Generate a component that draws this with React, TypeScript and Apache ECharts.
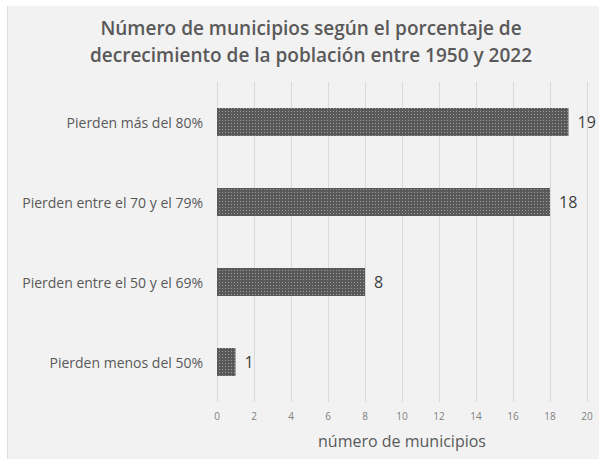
import React, { useEffect, useRef } from "react";
import * as echarts from "echarts";

const categories = [
  "Pierden más del 80%",
  "Pierden entre el 70 y el 79%",
  "Pierden entre el 50 y el 69%",
  "Pierden menos del 50%",
];
const values = [19, 18, 8, 1];
const xTicksMax = 20;
const titleLines = [
  "Número de municipios según el porcentaje de",
  "decrecimiento de la población entre 1950 y 2022",
];
const xAxisName = "número de municipios";

export default function App() {
  const ref = useRef<HTMLDivElement>(null);
  useEffect(() => {
    const chart = echarts.init(ref.current!, null, { renderer: "svg" });
    const font = "'Open Sans', 'Noto Sans', sans-serif";
    chart.setOption({
      animation: false,
      backgroundColor: "#ffffff",
      textStyle: { fontFamily: font },
      graphic: [
        {
          type: "rect",
          z: -10,
          silent: true,
          shape: { x: 7, y: 6, width: 700, height: 600 },
          style: { fill: "#f2f2f2" },
        },
        {
          type: "line",
          z: -9,
          silent: true,
          shape: { x1: 7.5, y1: 6, x2: 7.5, y2: 600 },
          style: { stroke: "#dedede", lineWidth: 1 },
        },
      ],
      title: {
        text: titleLines.join("\n"),
        left: 306,
        textAlign: "center",
        top: 9,
        textStyle: {
          fontFamily: font,
          fontSize: 19,
          fontWeight: 600,
          color: "#595959",
          lineHeight: 27,
        },
      },
      grid: { left: 217, right: 12, top: 82, bottom: 57, containLabel: false },
      xAxis: {
        type: "value",
        min: 0,
        max: xTicksMax,
        interval: 2,
        axisLine: { show: false },
        axisTick: { show: false },
        splitLine: { lineStyle: { color: "#d9d9d9", width: 1 } },
        axisLabel: { fontSize: 10, color: "#7f7f7f", margin: 9, fontFamily: font },
        name: xAxisName,
        nameLocation: "middle",
        nameGap: 31,
        nameTextStyle: { fontSize: 16, color: "#595959", fontFamily: font },
      },
      yAxis: {
        type: "category",
        data: categories,
        inverse: true,
        axisLine: { show: false },
        axisTick: { show: false },
        axisLabel: { fontSize: 14, color: "#595959", margin: 14, fontFamily: font },
      },
      series: [
        {
          type: "bar",
          data: values,
          barCategoryGap: "65%",
          itemStyle: {
            color: "#595959",
            decal: {
              symbol: "rect",
              symbolSize: 1,
              color: "rgba(255,255,255,0.4)",
              dashArrayX: [1, 2],
              dashArrayY: [1, 2],
              rotation: 0,
            },
          },
          label: {
            show: true,
            position: "right",
            distance: 9,
            fontSize: 16,
            color: "#404040",
            fontFamily: font,
          },
        },
      ],
    });
    return () => chart.dispose();
  }, []);
  return (
    <div
      ref={ref}
      style={{ position: "absolute", left: 0, top: 0, width: 599, height: 459 }}
    />
  );
}
